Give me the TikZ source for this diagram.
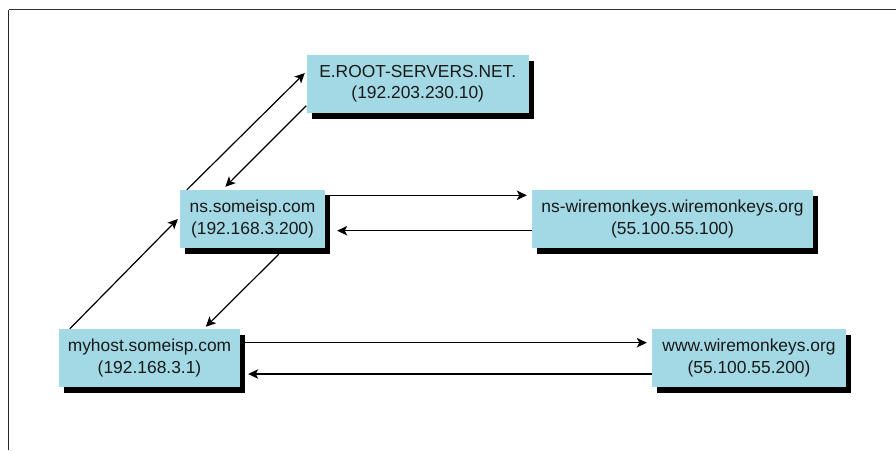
\documentclass[tikz,border=0pt]{standalone}
\usepackage{fontspec}
\setmainfont{Liberation Sans}
\usetikzlibrary{arrows.meta,shadows,calc}
\definecolor{boxblue}{RGB}{163,217,229}
\definecolor{txt}{RGB}{25,25,25}
\tikzset{
  host/.style={rectangle, fill=boxblue, inner sep=0pt, align=center,
    text=txt, font=\fontsize{17.4}{21.5}\selectfont,
    general shadow={fill=black, shadow xshift=5pt, shadow yshift=-6pt}},
  conn/.style={line width=1.2pt, -{Stealth[length=10pt,width=9.5pt,inset=2.5pt]}},
  frameline/.style={line width=1pt, black!85}
}
\begin{document}
\begin{tikzpicture}[x=1pt,y=-1pt]
\useasboundingbox (0,0) rectangle (896,450);
\coordinate (fa) at (8.5,450);
\coordinate (fb) at (8.5,9.5);
\coordinate (fc) at (896,9.5);
\draw[frameline] (fa) -- (fb);
\draw[frameline, line width=1.6pt, black!80] (fb) -- (fc);

\node[host, minimum width=222.5pt, minimum height=57.5pt] (root) at (417.75,83.75)
  {E.ROOT-SERVERS.NET.\\(192.203.230.10)};
\node[host, minimum width=145pt, minimum height=58pt] (ns) at (252.5,219)
  {ns.someisp.com\\(192.168.3.200)};
\node[host, minimum width=281pt, minimum height=58pt] (nswm) at (672.5,219)
  {ns-wiremonkeys.wiremonkeys.org\\(55.100.55.100)};
\node[host, minimum width=181pt, minimum height=58pt] (my) at (149.5,358)
  {myhost.someisp.com\\(192.168.3.1)};
\node[host, minimum width=194pt, minimum height=58pt] (www) at (749,358)
  {www.wiremonkeys.org\\(55.100.55.200)};

\draw[conn] ($(ns.north west)+(7,0)$) -- ($(root.west)+(-1.5,-10.75)$);
\draw[conn] ($(root.south west)+(0,-7)$) -- ($(ns.north west)+(45.5,-3)$);
\draw[conn] ($(ns.north east)+(0,5.5)$) -- ($(nswm.north west)+(-5,5.5)$);
\draw[conn] ($(nswm.west)+(0,11.7)$) -- ($(ns.east)+(12,11.7)$);
\draw[conn] ($(my.north west)+(11,0)$) -- ($(ns.west)+(-2,0)$);
\draw[conn] ($(ns.south west)+(99,6)$) -- ($(my.north west)+(147,-2)$);
\draw[conn] ($(my.east)+(5,-15.3)$) -- ($(www.west)+(-5,-15.3)$);
\draw[conn] ($(www.west)+(0,16)$) -- ($(my.east)+(8,16)$);
\end{tikzpicture}
\end{document}
